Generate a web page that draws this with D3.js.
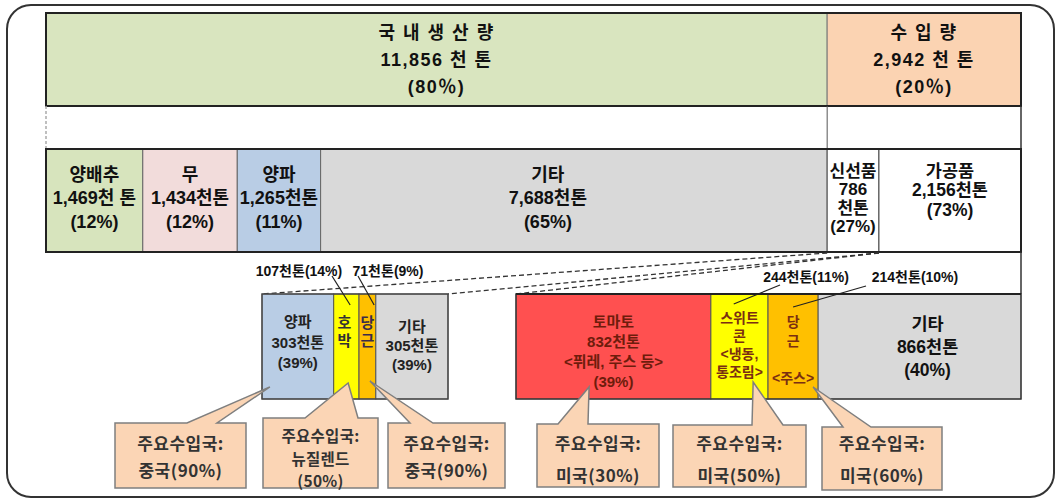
<!DOCTYPE html>
<html>
<head>
<meta charset="utf-8">
<script src="https://cdn.jsdelivr.net/npm/d3@7"></script>
<style>
  body { margin: 0; background: #fff; }
  text { font-family: "Liberation Sans", "Noto Sans CJK KR", sans-serif; font-weight: bold; }
</style>
</head>
<body>
<div id="sketchpad"></div>
<script>
// totals
const topCategories = ["국 내 생 산 량", "수 입 량"]
const topValues = [11856, 2942]
const topShares = [80, 20]

// domestic production by crop
const domesticItems = ["양배추", "무", "양파", "기타"]
const domesticValues = [1469, 1434, 1265, 7688]
const domesticShares = [12, 12, 11, 65]
const domesticUnits = ["천 톤", "천톤", "천톤", "천톤"]

// imports by type
const importItems = ["신선품", "가공품"]
const importValues = [786, 2156]
const importShares = [27, 73]

// fresh imports
const freshItems = ["양파", "호박", "당근", "기타"]
const freshValues = [303, 107, 71, 305]
const freshShares = [39, 14, 9, 39]

// processed imports
const processedItems = ["토마토", "스위트콘", "당근", "기타"]
const processedValues = [832, 244, 214, 866]
const processedShares = [39, 11, 10, 40]
const processedNotes = ["퓌레, 주스 등", "냉동, 통조림", "주스", ""]

// main origin countries (양파, 호박, 당근, 토마토, 스위트콘, 당근)
const mainCountries = ["중국", "뉴질렌드", "중국", "미국", "미국", "미국"]
const countryShares = [90, 50, 90, 30, 50, 60]

const W = 1059, H = 504
const fmt = d3.format(",")

let svg = d3.select("#sketchpad")
  .append("svg")
  .attr("width", W)
  .attr("height", H)

// outer rounded frame
svg.append("rect")
  .attr("x", 7).attr("y", 5)
  .attr("width", 1047).attr("height", 492)
  .attr("rx", 24).attr("ry", 24)
  .attr("fill", "none")
  .attr("stroke", "#333")
  .attr("stroke-width", 2)

// scales
let xTop = d3.scaleLinear()
  .domain([0, d3.sum(topValues)])
  .range([46, 1021])
let xFresh = d3.scaleLinear()
  .domain([0, d3.sum(freshValues)])
  .range([262, 448])
let xProc = d3.scaleLinear()
  .domain([0, d3.sum(processedValues)])
  .range([516, 1021])

function stack(values, offset) {
  let acc = offset || 0
  return values.map(v => { let s = acc; acc += v; return [s, acc] })
}

function lines(x, cy, lh, arr, size, color, ls) {
  let n = arr.length
  arr.forEach((t, i) => {
    if (!t) return
    svg.append("text")
      .attr("x", x)
      .attr("y", cy + (i - (n - 1) / 2) * lh)
      .attr("text-anchor", "middle")
      .attr("dominant-baseline", "central")
      .attr("font-size", size)
      .attr("letter-spacing", ls || 0)
      .attr("fill", color || "#111")
      .text(t)
  })
}

// ---- row 1: domestic vs import
const topColors = ["#d9e5bf", "#fbd3b2"]
let topStack = stack(topValues)
topStack.forEach((s, i) => {
  svg.append("rect")
    .attr("x", xTop(s[0])).attr("y", 13)
    .attr("width", xTop(s[1]) - xTop(s[0])).attr("height", 93)
    .attr("fill", topColors[i])
    .attr("stroke", "#777").attr("stroke-width", 1)
  let cx = (xTop(s[0]) + xTop(s[1])) / 2
  lines(cx, 60, 27, [topCategories[i], fmt(topValues[i]) + " 천 톤", "(" + topShares[i] + "％)"], 18, "#111", 1.5)
})
svg.append("rect")
  .attr("x", 46).attr("y", 13).attr("width", 975).attr("height", 93)
  .attr("fill", "none").attr("stroke", "#222").attr("stroke-width", 2)

// ---- row 2: connecting band
svg.append("line")
  .attr("x1", 46).attr("x2", 46).attr("y1", 106).attr("y2", 149)
  .attr("stroke", "#aaa").attr("stroke-width", 1.5).attr("stroke-dasharray", "3,2")
svg.append("line")
  .attr("x1", xTop(topValues[0])).attr("x2", xTop(topValues[0])).attr("y1", 106).attr("y2", 149)
  .attr("stroke", "#555").attr("stroke-width", 1)
svg.append("line")
  .attr("x1", 1021).attr("x2", 1021).attr("y1", 106).attr("y2", 149)
  .attr("stroke", "#333").attr("stroke-width", 1.5)

// ---- row 3: breakdown
const domesticColors = ["#d7e4bd", "#f2dcdb", "#b9cde5", "#d9d9d9"]
const labelShift = [0, 0, 0, -26]
stack(domesticValues).forEach((s, i) => {
  svg.append("rect")
    .attr("x", xTop(s[0])).attr("y", 149)
    .attr("width", xTop(s[1]) - xTop(s[0])).attr("height", 103)
    .attr("fill", domesticColors[i])
    .attr("stroke", "#666").attr("stroke-width", 1)
  let cx = (xTop(s[0]) + xTop(s[1])) / 2 + labelShift[i]
  lines(cx, 198, 23.5, [domesticItems[i], fmt(domesticValues[i]) + domesticUnits[i], "(" + domesticShares[i] + "%)"], 18)
})
stack(importValues, topValues[0]).forEach((s, i) => {
  svg.append("rect")
    .attr("x", xTop(s[0])).attr("y", 149)
    .attr("width", xTop(s[1]) - xTop(s[0])).attr("height", 103)
    .attr("fill", "#fff")
    .attr("stroke", "#444").attr("stroke-width", 1)
  let cx = (xTop(s[0]) + xTop(s[1])) / 2
  if (i == 0) {
    lines(cx, 199, 18.5, [importItems[i], fmt(importValues[i]), "천톤", "(" + importShares[i] + "%)"], 17)
  } else {
    lines(cx, 190, 19.5, [importItems[i], fmt(importValues[i]) + "천톤", "(" + importShares[i] + "%)"], 17.5)
  }
})
svg.append("rect")
  .attr("x", 46).attr("y", 149).attr("width", 975).attr("height", 103)
  .attr("fill", "none").attr("stroke", "#222").attr("stroke-width", 2)

// ---- row 4 right border + dashed connectors
svg.append("line")
  .attr("x1", 1021).attr("x2", 1021).attr("y1", 252).attr("y2", 294)
  .attr("stroke", "#333").attr("stroke-width", 1.5)

let freshX0 = xTop(topValues[0]), freshX1 = xTop(topValues[0] + importValues[0])
let connectors = [
  [freshX0, xFresh(0)],
  [freshX1, xFresh(d3.sum(freshValues))],
  [freshX1, xProc(0)]
]
connectors.forEach(c => {
  svg.append("line")
    .attr("x1", c[0]).attr("y1", 253)
    .attr("x2", c[1]).attr("y2", 294)
    .attr("stroke", "#333").attr("stroke-width", 1.3)
    .attr("stroke-dasharray", "5,3")
})

// ---- fresh import sub-bar
const freshColors = ["#b9cde5", "#ffff00", "#ffc000", "#d9d9d9"]
let freshStack = stack(freshValues)
freshStack.forEach((s, i) => {
  svg.append("rect")
    .attr("x", xFresh(s[0])).attr("y", 294)
    .attr("width", xFresh(s[1]) - xFresh(s[0])).attr("height", 105)
    .attr("fill", freshColors[i])
    .attr("stroke", "#555").attr("stroke-width", 1)
})
svg.append("rect")
  .attr("x", xFresh(0)).attr("y", 294).attr("width", xFresh(d3.sum(freshValues)) - xFresh(0)).attr("height", 105)
  .attr("fill", "none").attr("stroke", "#444").attr("stroke-width", 1.3)

let fc = freshStack.map(s => (xFresh(s[0]) + xFresh(s[1])) / 2)
lines(fc[0], 342, 20.5, [freshItems[0], freshValues[0] + "천톤", "(" + freshShares[0] + "%)"], 15, "#222")
lines(fc[1] - 2, 331, 18, freshItems[1].split(""), 15, "#333")
lines(fc[2], 331, 18, freshItems[2].split(""), 15, "#3b2b4a")
lines(fc[3], 345, 19, [freshItems[3], freshValues[3] + "천톤", "(" + freshShares[3] + "%)"], 15, "#222")

// ---- processed import sub-bar
const procColors = ["#ff5050", "#ffff00", "#ffc000", "#d9d9d9"]
let procStack = stack(processedValues)
procStack.forEach((s, i) => {
  svg.append("rect")
    .attr("x", xProc(s[0])).attr("y", 294)
    .attr("width", xProc(s[1]) - xProc(s[0])).attr("height", 105)
    .attr("fill", procColors[i])
    .attr("stroke", "#555").attr("stroke-width", 1)
})
svg.append("rect")
  .attr("x", xProc(0)).attr("y", 294).attr("width", xProc(d3.sum(processedValues)) - xProc(0)).attr("height", 105)
  .attr("fill", "none").attr("stroke", "#333").attr("stroke-width", 1.3)
svg.append("line")
  .attr("x1", xProc(0)).attr("x2", 1021).attr("y1", 294).attr("y2", 294)
  .attr("stroke", "#222").attr("stroke-width", 2)

let pc = procStack.map(s => (xProc(s[0]) + xProc(s[1])) / 2)
lines(pc[0], 351, 20, [processedItems[0], processedValues[0] + "천톤", "<" + processedNotes[0] + ">", "(" + processedShares[0] + "%)"], 15, "#6e1c0c")
lines(pc[1], 345, 17.7, ["스위트", "콘", "<" + processedNotes[1].split(" ")[0], processedNotes[1].split(" ")[1] + ">"], 14, "#7a2e12")
lines(pc[2], 350, 18.7, ["당", "근", "", "<" + processedNotes[2] + ">"], 14, "#7a2e12")
lines(pc[3] + 8, 347, 23, [processedItems[3], processedValues[3] + "천톤", "(" + processedShares[3] + "%)"], 17.5, "#111")

// ---- small segment labels with leader lines
let smallLabels = [
  { text: freshValues[1] + "천톤(" + freshShares[1] + "%)", lx: 299, ly: 271, from: [332, 276], to: xFresh(freshStack[1][0] + freshValues[1] * 0.65), toY: 305 },
  { text: freshValues[2] + "천톤(" + freshShares[2] + "%)", lx: 388, ly: 271, from: [358, 276], to: xFresh(freshStack[2][0] + freshValues[2] * 0.9), toY: 305 },
  { text: processedValues[1] + "천톤(" + processedShares[1] + "%)", lx: 806, ly: 277, from: [780, 285], to: xProc(procStack[1][0] + processedValues[1] * 0.4), toY: 304 },
  { text: processedValues[2] + "천톤(" + processedShares[2] + "%)", lx: 915, ly: 277, from: [866, 286], to: xProc(procStack[2][0] + processedValues[2] * 0.5), toY: 307 }
]
smallLabels.forEach(d => {
  svg.append("text")
    .attr("x", d.lx).attr("y", d.ly)
    .attr("text-anchor", "middle").attr("dominant-baseline", "central")
    .attr("font-size", 14).attr("fill", "#111")
    .text(d.text)
  svg.append("line")
    .attr("x1", d.from[0]).attr("y1", d.from[1])
    .attr("x2", d.to).attr("y2", d.toY)
    .attr("stroke", "#222").attr("stroke-width", 1.2)
})

// ---- callouts (main origin country)
let tipX = [
  xFresh(freshStack[0][0] + freshValues[0] * 0.11),
  xFresh(freshStack[1][0] + freshValues[1] * 0.57),
  xFresh(freshStack[2][0] + freshValues[2] * 0.65),
  xProc(procStack[0][0] + processedValues[0] * 0.375),
  xProc(procStack[1][0] + processedValues[1] * 0.74),
  xProc(procStack[2][0] + processedValues[2] * 0.9)
]
let boxes = [
  { x0: 115, x1: 246, y0: 423, y1: 488, b0: 187, b1: 217, ty: 387 },
  { x0: 263, x1: 378, y0: 418, y1: 488, b0: 305, b1: 358, ty: 383 },
  { x0: 388, x1: 505, y0: 423, y1: 488, b0: 410, b1: 433, ty: 381 },
  { x0: 537, x1: 659, y0: 424, y1: 487, b0: 558, b1: 588, ty: 387 },
  { x0: 673, x1: 806, y0: 425, y1: 487, b0: 752, b1: 783, ty: 382 },
  { x0: 822, x1: 942, y0: 427, y1: 490, b0: 843, b1: 871, ty: 387 }
]
boxes.forEach((b, i) => {
  let p = d3.path()
  p.moveTo(b.x0, b.y0)
  p.lineTo(b.b0, b.y0)
  p.lineTo(tipX[i], b.ty)
  p.lineTo(b.b1, b.y0)
  p.lineTo(b.x1, b.y0)
  p.lineTo(b.x1, b.y1)
  p.lineTo(b.x0, b.y1)
  p.closePath()
  svg.append("path")
    .attr("d", p.toString())
    .attr("fill", "#fbd5b5")
    .attr("stroke", "#7f7f7f")
    .attr("stroke-width", 1.5)
  let cx = (b.x0 + b.x1) / 2
  let c = mainCountries[i], sh = "(" + countryShares[i] + "%)"
  let three = c.length > 2
  let txt = three ? ["주요수입국:", c, sh] : ["주요수입국:", c + sh]
  let cy = three ? 457.5 : (i < 3 ? 455.5 : 458.5)
  let lh = three ? 22.5 : (i < 3 ? 27 : 32)
  let size = three ? 15.5 : 17
  txt.forEach((t, j) => {
    svg.append("text")
      .attr("x", cx)
      .attr("y", cy + (j - (txt.length - 1) / 2) * lh)
      .attr("text-anchor", "middle").attr("dominant-baseline", "central")
      .attr("font-size", size).attr("letter-spacing", three ? 0.3 : 0.5)
      .attr("fill", "#333")
      .style("font-family", "'Noto Sans CJK KR', sans-serif")
      .text(t)
  })
})
</script>
</body>
</html>
